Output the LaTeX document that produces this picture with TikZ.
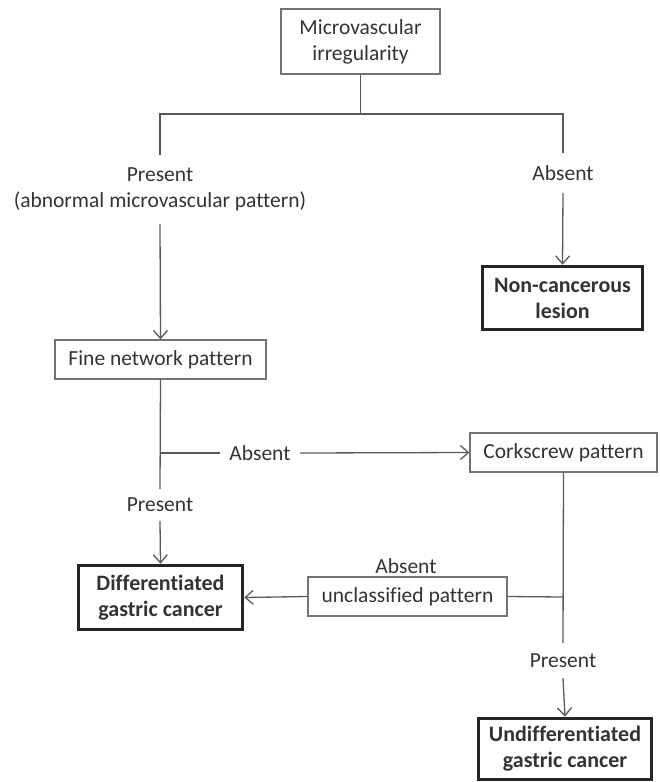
\documentclass[tikz,border=0pt]{standalone}
\usepackage{fontspec}
\setmainfont[Ligatures={NoCommon,NoRequired,NoContextual},RawFeature={-liga;-clig;-calt;-rlig}]{Carlito}
\usetikzlibrary{arrows.meta}
\definecolor{lnc}{gray}{0.35}
\definecolor{bxc}{gray}{0.45}
\definecolor{txc}{gray}{0.2}
\tikzset{
  thinbox/.style={draw=bxc, line width=1.2pt, inner sep=0pt, align=center, text=txc},
  endbox/.style={draw=black!85, line width=3.5pt, inner sep=0pt, align=center, text=txc, font=\fontsize{22}{26}\selectfont\bfseries},
  lbl/.style={inner sep=0pt, align=center, text=txc},
  conn/.style={draw=lnc, line width=1.3pt},
  arr/.style={conn, -{Straight Barb[length=8pt,width=14pt,line width=1.3pt]}}
}
\begin{document}
\begin{tikzpicture}[x=1pt,y=-1pt, font=\fontsize{21.5}{26}\selectfont]
\useasboundingbox (0,0) rectangle (659,782);
% boxes
\node[thinbox, minimum width=159, minimum height=65] (micro) at (360.5,41.5) {Microvascular\\irregularity};
\node[endbox, minimum width=160, minimum height=63] (noncan) at (562.5,298) {Non-cancerous\\lesion};
\node[thinbox, minimum width=211, minimum height=39] (fine) at (160.5,359.5) {Fine network pattern};
\node[thinbox, minimum width=187, minimum height=39] (cork) at (563.5,452.5) {Corkscrew pattern};
\node[thinbox, minimum width=199, minimum height=39] (uncl) at (407.5,596.5) {unclassified pattern};
\node[endbox, minimum width=164, minimum height=64] (diff) at (160.5,597.5) {Differentiated\\gastric cancer};
\node[endbox, minimum width=173, minimum height=61] (undiff) at (565,749) {Undifferentiated\\gastric cancer};
% labels
\node[lbl, minimum height=69] (lp1) at (160,189.5) {Present\\(abnormal microvascular pattern)};
\node[lbl, minimum height=40] (la1) at (563,173) {Absent};
\node[lbl, minimum width=80] (la2) at (260,453) {Absent};
\node[lbl, minimum height=32] (lp2) at (160,505) {Present};
\node[lbl, minimum height=35] (lp3) at (563,660.5) {Present};
\node[lbl] (la3) at (406,566) {Absent};
% junctions
\coordinate (jtop) at (360.5,114);
\coordinate (jfine) at (160,453);
\coordinate (jcork) at (563,597);
% connectors
\draw[conn] (micro.south) -- (jtop);
\draw[conn] (lp1.north) |- (jtop) -| (la1.north);
\draw[arr] (lp1.south) -- (fine.north);
\draw[arr] (la1.south) -- (noncan.north);
\draw[conn] (fine.south) -- (lp2.north);
\draw[conn] (jfine) -- (la2.west);
\draw[arr] (la2.east) -- (cork.west);
\draw[arr] (lp2.south) -- (diff.north);
\draw[conn] (cork.south) -- (lp3.north);
\draw[conn] (uncl.east) -- (jcork);
\draw[arr] (uncl.west) -- (diff.east);
\draw[arr] (lp3.south) -- (undiff.north);
\end{tikzpicture}
\end{document}
